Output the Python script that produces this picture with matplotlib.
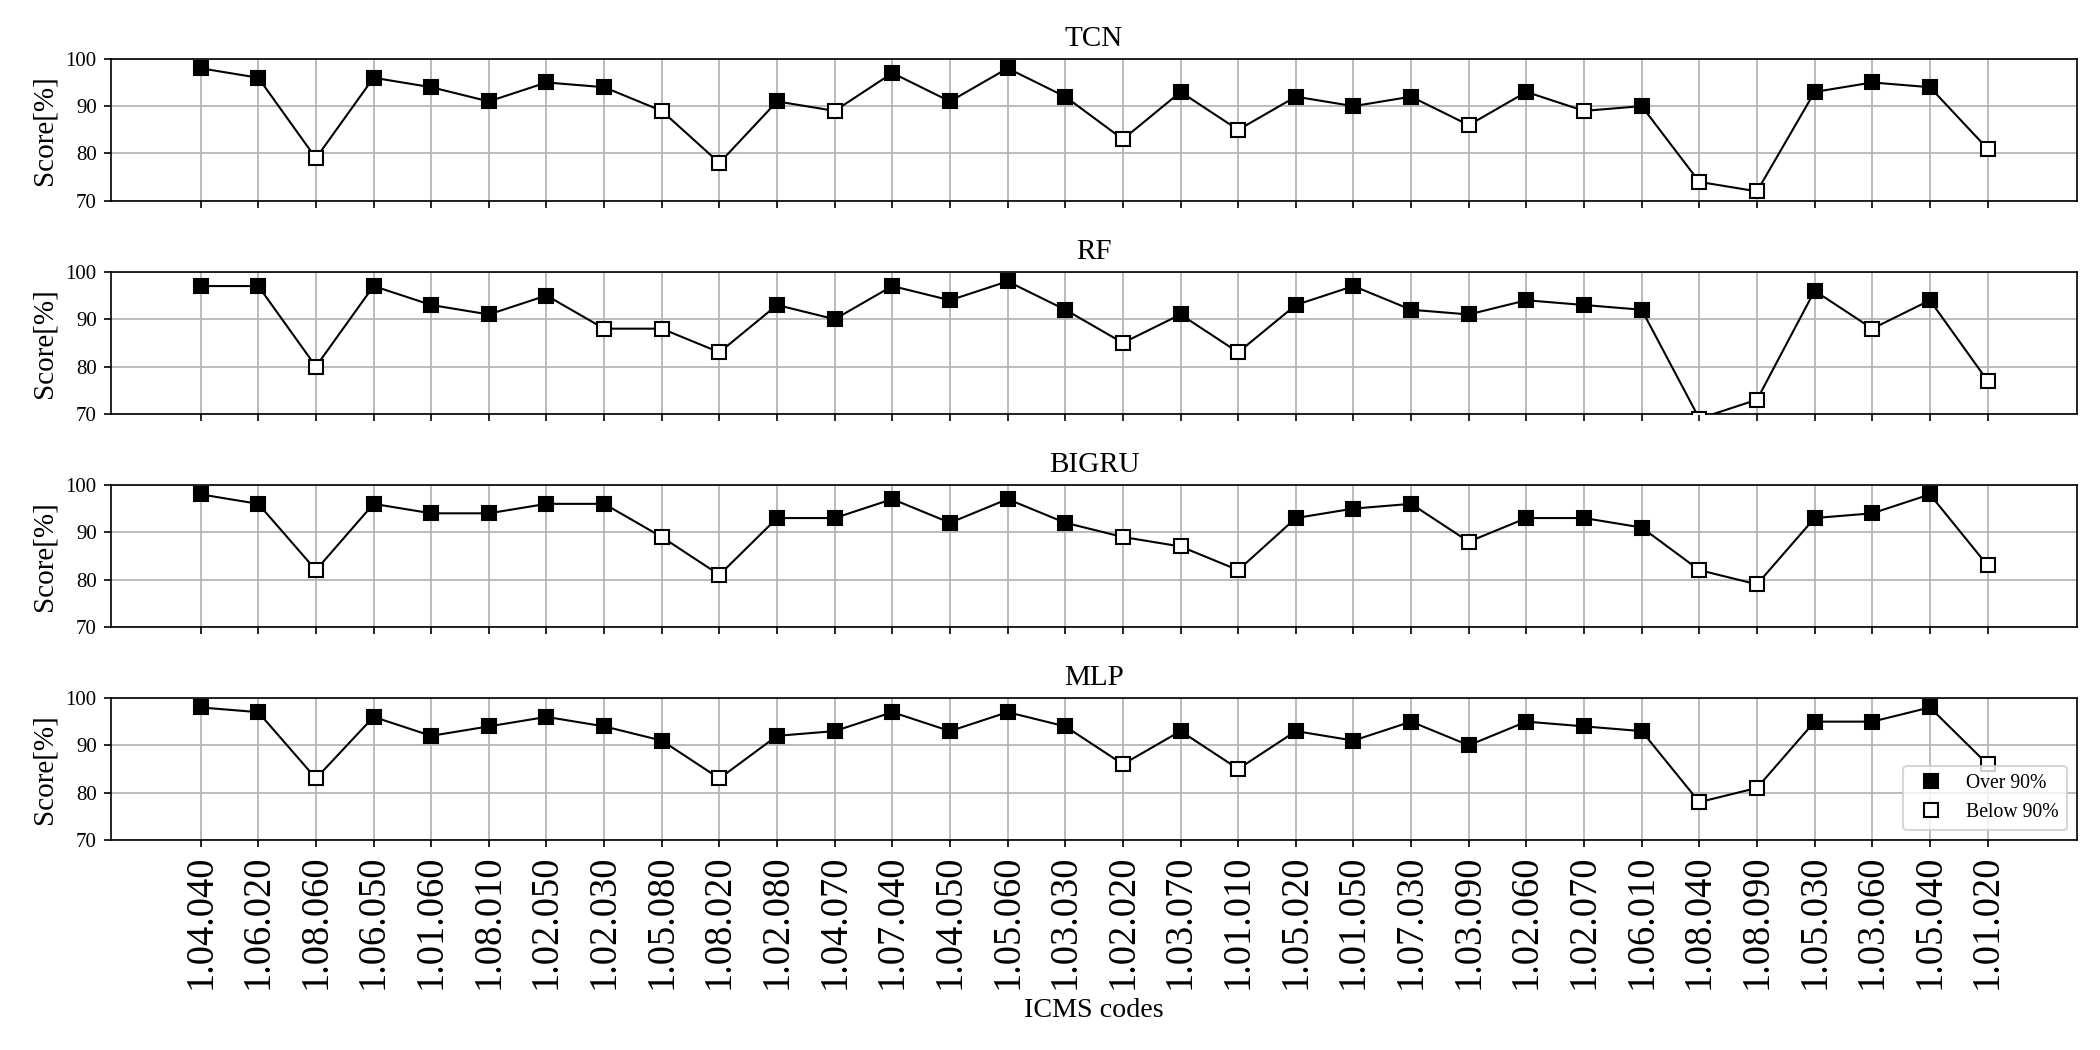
import numpy as np
import matplotlib
matplotlib.use("Agg")
import matplotlib.pyplot as plt
from matplotlib.lines import Line2D

plt.rcParams["font.family"] = ["Liberation Serif", "DejaVu Serif"]

codes = ["1.04.040", "1.06.020", "1.08.060", "1.06.050", "1.01.060", "1.08.010",
         "1.02.050", "1.02.030", "1.05.080", "1.08.020", "1.02.080", "1.04.070",
         "1.07.040", "1.04.050", "1.05.060", "1.03.030", "1.02.020", "1.03.070",
         "1.01.010", "1.05.020", "1.01.050", "1.07.030", "1.03.090", "1.02.060",
         "1.02.070", "1.06.010", "1.08.040", "1.08.090", "1.05.030", "1.03.060",
         "1.05.040", "1.01.020"]

tcn = [98, 96, 79, 96, 94, 91, 95, 94, 89, 78, 91, 89, 97, 91, 98, 92,
       83, 93, 85, 92, 90, 92, 86, 93, 89, 90, 74, 72, 93, 95, 94, 81]
rf = [97, 97, 80, 97, 93, 91, 95, 88, 88, 83, 93, 90, 97, 94, 98, 92,
      85, 91, 83, 93, 97, 92, 91, 94, 93, 92, 69, 73, 96, 88, 94, 77]
bigru = [98, 96, 82, 96, 94, 94, 96, 96, 89, 81, 93, 93, 97, 92, 97, 92,
         89, 87, 82, 93, 95, 96, 88, 93, 93, 91, 82, 79, 93, 94, 98, 83]
mlp = [98, 97, 83, 96, 92, 94, 96, 94, 91, 83, 92, 93, 97, 93, 97, 94,
       86, 93, 85, 93, 91, 95, 90, 95, 94, 93, 78, 81, 95, 95, 98, 86]

models = ["TCN", "RF", "BIGRU", "MLP"]
scores = [tcn, rf, bigru, mlp]
threshold = 90

fig, axes = plt.subplots(4, 1, figsize=(14, 7), dpi=150, sharex=True)
fig.subplots_adjust(left=0.053, right=0.989, top=0.944, bottom=0.2, hspace=0.5)

x = np.arange(len(codes))
for ax, name, vals in zip(axes, models, scores):
    y = np.array(vals)
    hi = y >= threshold
    ax.plot(x, y, color="black", lw=1, zorder=2)
    ax.plot(x[hi], y[hi], "s", ls="none", ms=6.5, mfc="black", mec="black", zorder=3)
    ax.plot(x[~hi], y[~hi], "s", ls="none", ms=6.5, mfc="white", mec="black", zorder=3)
    ax.set_ylim(70, 100)
    ax.set_yticks([70, 80, 90, 100])
    ax.tick_params(axis="y", labelsize=10)
    ax.set_title(name, fontsize=14)
    ax.set_ylabel("Score[%]", fontsize=14)
    ax.grid(True, color="#b0b0b0", lw=0.8)
    ax.set_axisbelow(True)

axes[-1].set_xticks(x)
axes[-1].set_xticklabels(codes, rotation=90, fontsize=18.5)
axes[-1].set_xlabel("ICMS codes", fontsize=13.5)

handles = [Line2D([], [], marker="s", ls="none", ms=6.5, mfc="black", mec="black"),
           Line2D([], [], marker="s", ls="none", ms=6.5, mfc="white", mec="black")]
axes[-1].legend(handles, ["Over 90%", "Below 90%"], loc="lower right", fontsize=9.5)

fig.savefig("out.png", dpi=150)
